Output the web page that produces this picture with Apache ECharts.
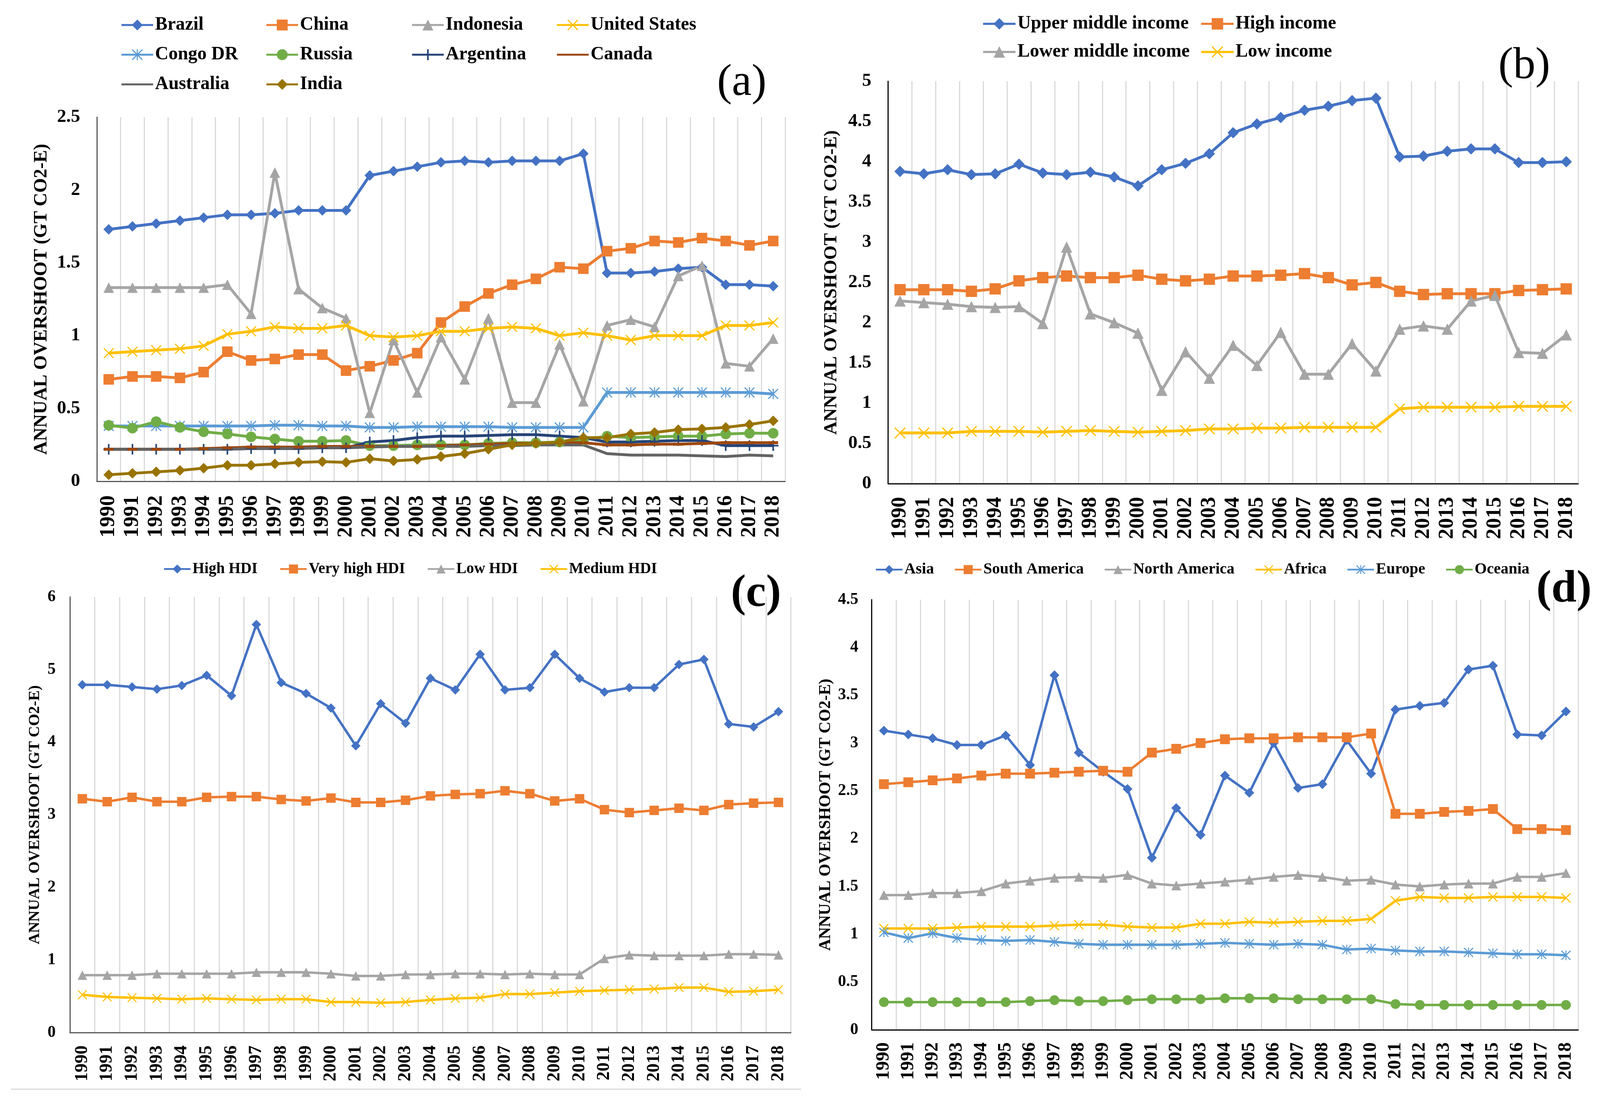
<!DOCTYPE html>
<html><head><meta charset="utf-8">
<script src="https://cdn.jsdelivr.net/npm/echarts@6/dist/echarts.min.js"></script>
<style>html,body{margin:0;padding:0;background:#fff;overflow:hidden}#c{width:100vw;height:100vh}</style>
</head><body><div id="c"></div>
<script>
const years = ['1990','1991','1992','1993','1994','1995','1996','1997','1998','1999','2000','2001','2002','2003','2004','2005','2006','2007','2008','2009','2010','2011','2012','2013','2014','2015','2016','2017','2018'];

// (a) countries
const brazil = [1.73,1.75,1.77,1.79,1.81,1.83,1.83,1.84,1.86,1.86,1.86,2.10,2.13,2.16,2.19,2.20,2.19,2.20,2.20,2.20,2.25,1.43,1.43,1.44,1.46,1.47,1.35,1.35,1.34];
const china = [0.70,0.72,0.72,0.71,0.75,0.89,0.83,0.84,0.87,0.87,0.76,0.79,0.83,0.88,1.09,1.20,1.29,1.35,1.39,1.47,1.46,1.58,1.60,1.65,1.64,1.67,1.65,1.62,1.65];
const indonesia = [1.33,1.33,1.33,1.33,1.33,1.35,1.15,2.12,1.32,1.19,1.12,0.47,0.97,0.61,0.99,0.70,1.12,0.54,0.54,0.94,0.55,1.07,1.11,1.06,1.41,1.48,0.81,0.79,0.98];
const unitedStates = [0.88,0.89,0.90,0.91,0.93,1.01,1.03,1.06,1.05,1.05,1.07,1.00,0.99,1.00,1.03,1.03,1.05,1.06,1.05,1.00,1.02,1.00,0.97,1.00,1.00,1.00,1.07,1.07,1.09];
const congoDR = [0.38,0.38,0.38,0.38,0.38,0.38,0.38,0.385,0.385,0.38,0.38,0.37,0.37,0.375,0.375,0.375,0.375,0.37,0.37,0.37,0.37,0.61,0.61,0.61,0.61,0.61,0.61,0.61,0.60];
const russia = [0.385,0.365,0.41,0.37,0.34,0.325,0.305,0.29,0.275,0.275,0.28,0.245,0.245,0.25,0.25,0.25,0.26,0.265,0.265,0.27,0.285,0.31,0.30,0.305,0.31,0.31,0.325,0.33,0.33];
const argentina = [0.22,0.22,0.22,0.22,0.22,0.22,0.225,0.225,0.225,0.23,0.23,0.27,0.28,0.30,0.31,0.31,0.315,0.32,0.32,0.31,0.30,0.27,0.27,0.275,0.28,0.28,0.245,0.245,0.245];
const canada = [0.22,0.22,0.22,0.22,0.225,0.23,0.235,0.235,0.235,0.24,0.24,0.24,0.24,0.24,0.245,0.25,0.255,0.26,0.26,0.265,0.265,0.25,0.25,0.255,0.255,0.26,0.265,0.265,0.265];
const australia = [0.22,0.22,0.22,0.22,0.22,0.22,0.225,0.225,0.225,0.23,0.23,0.235,0.24,0.24,0.24,0.24,0.245,0.245,0.25,0.25,0.25,0.19,0.18,0.18,0.18,0.175,0.17,0.18,0.175];
const india = [0.045,0.055,0.065,0.075,0.09,0.11,0.11,0.12,0.13,0.135,0.13,0.155,0.14,0.15,0.17,0.19,0.22,0.25,0.26,0.27,0.30,0.30,0.325,0.335,0.355,0.36,0.37,0.39,0.415];

// (b) income groups
const upperMiddle = [3.88,3.85,3.90,3.84,3.85,3.97,3.86,3.84,3.87,3.81,3.70,3.90,3.98,4.10,4.36,4.47,4.55,4.64,4.69,4.76,4.79,4.06,4.07,4.13,4.16,4.16,3.99,3.99,4.00];
const highIncome = [2.41,2.41,2.41,2.39,2.42,2.52,2.56,2.58,2.56,2.56,2.59,2.54,2.52,2.54,2.58,2.58,2.59,2.61,2.56,2.47,2.50,2.39,2.35,2.36,2.36,2.36,2.40,2.41,2.42];
const lowerMiddle = [2.27,2.25,2.23,2.20,2.19,2.20,1.99,2.94,2.11,2.00,1.87,1.16,1.64,1.31,1.72,1.47,1.88,1.36,1.36,1.74,1.40,1.92,1.96,1.92,2.27,2.34,1.63,1.62,1.85];
const lowIncome = [0.63,0.63,0.63,0.65,0.65,0.65,0.64,0.65,0.66,0.65,0.64,0.65,0.66,0.68,0.68,0.69,0.69,0.70,0.70,0.70,0.70,0.93,0.95,0.95,0.95,0.95,0.96,0.96,0.96];

// (c) HDI groups
const highHDI = [4.79,4.79,4.76,4.73,4.78,4.92,4.64,5.62,4.82,4.67,4.47,3.95,4.53,4.26,4.88,4.72,5.21,4.72,4.75,5.21,4.88,4.69,4.75,4.75,5.07,5.14,4.25,4.21,4.42];
const veryHighHDI = [3.22,3.18,3.24,3.18,3.18,3.24,3.25,3.25,3.21,3.19,3.23,3.17,3.17,3.20,3.26,3.28,3.29,3.33,3.29,3.19,3.22,3.07,3.03,3.06,3.09,3.06,3.14,3.16,3.17];
const lowHDI = [0.79,0.79,0.79,0.81,0.81,0.81,0.81,0.83,0.83,0.83,0.81,0.78,0.78,0.80,0.80,0.81,0.81,0.80,0.81,0.80,0.80,1.02,1.07,1.06,1.06,1.06,1.08,1.08,1.07];
const mediumHDI = [0.52,0.49,0.48,0.47,0.46,0.47,0.46,0.45,0.46,0.46,0.42,0.42,0.41,0.42,0.45,0.47,0.48,0.53,0.53,0.55,0.57,0.58,0.59,0.60,0.62,0.62,0.56,0.57,0.59];

// (d) continents
const asia = [3.13,3.09,3.05,2.98,2.98,3.08,2.77,3.71,2.90,2.70,2.52,1.80,2.32,2.04,2.66,2.48,3.00,2.53,2.57,3.03,2.68,3.35,3.39,3.42,3.77,3.81,3.09,3.08,3.33];
const southAmerica = [2.57,2.59,2.61,2.63,2.66,2.68,2.68,2.69,2.70,2.71,2.70,2.90,2.94,3.00,3.04,3.05,3.05,3.06,3.06,3.06,3.10,2.26,2.26,2.28,2.29,2.31,2.10,2.10,2.09];
const northAmerica = [1.41,1.41,1.43,1.43,1.45,1.53,1.56,1.59,1.60,1.59,1.62,1.53,1.51,1.53,1.55,1.57,1.60,1.62,1.60,1.56,1.57,1.52,1.50,1.52,1.53,1.53,1.60,1.60,1.64];
const africa = [1.06,1.06,1.06,1.07,1.08,1.08,1.08,1.09,1.10,1.10,1.08,1.07,1.07,1.11,1.11,1.13,1.12,1.13,1.14,1.14,1.16,1.35,1.39,1.38,1.38,1.39,1.39,1.39,1.38];
const europe = [1.02,0.96,1.01,0.96,0.94,0.93,0.94,0.92,0.90,0.89,0.89,0.89,0.89,0.90,0.91,0.90,0.89,0.90,0.89,0.84,0.85,0.83,0.82,0.82,0.81,0.80,0.79,0.79,0.78];
const oceania = [0.29,0.29,0.29,0.29,0.29,0.29,0.30,0.31,0.30,0.30,0.31,0.32,0.32,0.32,0.33,0.33,0.33,0.32,0.32,0.32,0.32,0.27,0.26,0.26,0.26,0.26,0.26,0.26,0.26];

// ---- layout scaling (design space 4394 x 2831) ----
const el = document.getElementById('c');
const W = el.clientWidth || window.innerWidth || 4394;
const H = el.clientHeight || window.innerHeight || 2831;
const SX = W / 4394, SY = H / 2831, SF = Math.sqrt(SX * SY);
const X = v => v * SX, Y = v => v * SY, F = v => v * SF;

const FONT = "'Liberation Serif','Times New Roman',serif";
const C = {blue:'#4472C4', orange:'#ED7D31', gray:'#A5A5A5', gold:'#FFC000', lblue:'#5B9BD5', green:'#70AD47', navy:'#264478', brown:'#9E480E', dgray:'#636363', olive:'#997300'};
const P_X = 'path://M0,1.5L1.5,0L10,8.5L18.5,0L20,1.5L11.5,10L20,18.5L18.5,20L10,11.5L1.5,20L0,18.5L8.5,10Z';
const P_AST = P_X + 'M9,0L11,0L11,20L9,20Z';
const P_PLUS = 'path://M8.5,0L11.5,0L11.5,20L8.5,20ZM0,8.5L20,8.5L20,11.5L0,11.5Z';
const P_DASH = 'path://M0,0L20,0L20,6L0,6Z';
const YNAME = 'ANNUAL OVERSHOOT (GT CO2-E)';

const panels = [
  {grid:{left:266,top:300,width:1890,height:932}, max:2.5, interval:0.5, axisColor:'#595959',
   yFont:49, yMargin:46, xFont:54, xMargin:36, nameFont:48, nameGap:126, lw:7.5, ss:28,
   series:[
     {name:'Brazil', data:brazil, color:C.blue, symbol:'diamond'},
     {name:'China', data:china, color:C.orange, symbol:'rect'},
     {name:'Indonesia', data:indonesia, color:C.gray, symbol:'triangle'},
     {name:'United States', data:unitedStates, color:C.gold, symbol:P_X},
     {name:'Congo DR', data:congoDR, color:C.lblue, symbol:P_AST},
     {name:'Russia', data:russia, color:C.green, symbol:'circle'},
     {name:'Argentina', data:argentina, color:C.navy, symbol:P_PLUS},
     {name:'Canada', data:canada, color:C.brown, symbol:P_DASH, size:[26,8]},
     {name:'Australia', data:australia, color:C.dgray, symbol:'none'},
     {name:'India', data:india, color:C.olive, symbol:'diamond'}
   ]},
  {grid:{left:2439,top:208,width:1895,height:1030}, max:5, interval:0.5, axisColor:'#000000',
   yFont:49, yMargin:46, xFont:54, xMargin:34, nameFont:47, nameGap:130, lw:7.5, ss:30,
   series:[
     {name:'Upper middle income', data:upperMiddle, color:C.blue, symbol:'diamond'},
     {name:'High income', data:highIncome, color:C.orange, symbol:'rect'},
     {name:'Lower middle income', data:lowerMiddle, color:C.gray, symbol:'triangle'},
     {name:'Low income', data:lowIncome, color:C.gold, symbol:P_X}
   ]},
  {grid:{left:192,top:1528,width:1980,height:1115}, max:6, interval:1, axisColor:'#595959',
   yFont:43, yMargin:39, xFont:46, xMargin:33, nameFont:40, nameGap:74, lw:6.5, ss:25,
   series:[
     {name:'High HDI', data:highHDI, color:C.blue, symbol:'diamond'},
     {name:'Very high HDI', data:veryHighHDI, color:C.orange, symbol:'rect'},
     {name:'Low HDI', data:lowHDI, color:C.gray, symbol:'triangle'},
     {name:'Medium HDI', data:mediumHDI, color:C.gold, symbol:P_X}
   ]},
  {grid:{left:2394,top:1535,width:1940,height:1101}, max:4.5, interval:0.5, axisColor:'#000000',
   yFont:43, yMargin:37, xFont:48, xMargin:32, nameFont:42, nameGap:104, lw:6.5, ss:26,
   series:[
     {name:'Asia', data:asia, color:C.blue, symbol:'diamond'},
     {name:'South America', data:southAmerica, color:C.orange, symbol:'rect'},
     {name:'North America', data:northAmerica, color:C.gray, symbol:'triangle'},
     {name:'Africa', data:africa, color:C.gold, symbol:P_X},
     {name:'Europe', data:europe, color:C.lblue, symbol:P_AST},
     {name:'Oceania', data:oceania, color:C.green, symbol:'circle'}
   ]}
];

const grids = [], xAxes = [], yAxes = [], series = [];
panels.forEach((p, i) => {
  grids.push({containLabel:false, left:X(p.grid.left), top:Y(p.grid.top), width:X(p.grid.width), height:Y(p.grid.height)});
  xAxes.push({
    type:'category', gridIndex:i, data:years, boundaryGap:true,
    axisTick:{show:false},
    axisLine:{show:true, lineStyle:{color:p.axisColor, width:F(3)}},
    axisLabel:{interval:0, rotate:90, margin:Y(p.xMargin), fontSize:p.xFont * SY, fontWeight:'bold', fontFamily:FONT, color:'#000'},
    splitLine:{show:true, interval:0, lineStyle:{color:'#D9D9D9', width:F(3)}}
  });
  yAxes.push({
    type:'value', gridIndex:i, min:0, max:p.max, interval:p.interval,
    name:YNAME, nameLocation:'middle', nameGap:X(p.nameGap), nameRotate:90,
    nameTextStyle:{fontSize:p.nameFont * SY, fontWeight:'bold', fontFamily:FONT, color:'#000'},
    axisLine:{show:true, lineStyle:{color:p.axisColor, width:F(3)}},
    axisTick:{show:false}, splitLine:{show:false},
    axisLabel:{margin:X(p.yMargin), fontSize:F(p.yFont), fontWeight:'bold', fontFamily:FONT, color:'#000'}
  });
  p.series.forEach(s => {
    const sz = s.size ? [F(s.size[0]), F(s.size[1])] : F(p.ss);
    series.push({
      type:'line', name:s.name, xAxisIndex:i, yAxisIndex:i, data:s.data,
      symbol:s.symbol, symbolSize:sz, showSymbol:s.symbol !== 'none',
      lineStyle:{width:F(p.lw), color:s.color, join:'round'},
      itemStyle:{color:s.color},
      emphasis:{disabled:true}, animation:false
    });
  });
});

const legTxt = fs => ({fontSize:fs * SX, fontWeight:'bold', fontFamily:FONT, color:'#000'});
function leg(o) {
  const vertical = o.orient === 'vertical';
  return {
    left:X(o.left), top:Y(o.top), orient:o.orient, padding:0, selectedMode:false,
    itemGap: vertical ? Y(o.gap) : X(o.gap),
    itemWidth:X(o.iw), itemHeight:F(o.ih),
    textStyle:legTxt(o.fs), lineStyle:{width:F(o.lw)},
    data:o.data
  };
}
const legends = [
  leg({left:331, top:40, orient:'vertical', gap:28, iw:87, ih:36, fs:51, lw:5,
    data:['Brazil','Congo DR',{name:'Australia', itemStyle:{opacity:0}}]}),
  leg({left:729, top:40, orient:'vertical', gap:28, iw:87, ih:36, fs:51, lw:5,
    data:['China','Russia','India']}),
  leg({left:1129, top:40, orient:'vertical', gap:28, iw:87, ih:36, fs:51, lw:5,
    data:['Indonesia','Argentina']}),
  leg({left:1527, top:40, orient:'vertical', gap:28, iw:87, ih:36, fs:51, lw:5,
    data:['United States',{name:'Canada', itemStyle:{opacity:0}}]}),
  leg({left:2697, top:37, orient:'vertical', gap:24, iw:89, ih:38, fs:51, lw:5.5,
    data:['Upper middle income','Lower middle income']}),
  leg({left:3296, top:37, orient:'vertical', gap:24, iw:89, ih:38, fs:51, lw:5.5,
    data:['High income','Low income']}),
  leg({left:448, top:1437, orient:'horizontal', gap:60, iw:73, ih:30, fs:42, lw:4.5,
    data:['High HDI','Very high HDI','Low HDI','Medium HDI']}),
  leg({left:2403, top:1438, orient:'horizontal', gap:55, iw:73, ih:30, fs:43, lw:4.5,
    data:['Asia','South America','North America','Africa','Europe','Oceania']})
];

const lbl = (t, x, y, fs, w) => ({type:'text', x:X(x), y:Y(y), z:100,
  style:{text:t, fontSize:F(fs), fontFamily:FONT, fontWeight:w, fill:'#000',
         align:'center', verticalAlign:'middle', textAlign:'center', textVerticalAlign:'middle'}});

const option = {
  backgroundColor:'#ffffff',
  animation:false,
  grid:grids, xAxis:xAxes, yAxis:yAxes, series:series, legend:legends,
  graphic:[
    lbl('(a)', 2037, 213, 118, 'normal'),
    lbl('(b)', 4186, 170, 118, 'normal'),
    lbl('(c)', 2076, 1521, 120, 'bold'),
    lbl('(d)', 4295, 1510, 120, 'bold'),
    {type:'line', shape:{x1:X(30), y1:Y(2788), x2:X(2200), y2:Y(2788)}, style:{stroke:'#D9D9D9', lineWidth:F(3)}}
  ]
};

const chart = echarts.init(el, null, {renderer:'canvas', width:W, height:H});
chart.setOption(option);
</script>
</body></html>
